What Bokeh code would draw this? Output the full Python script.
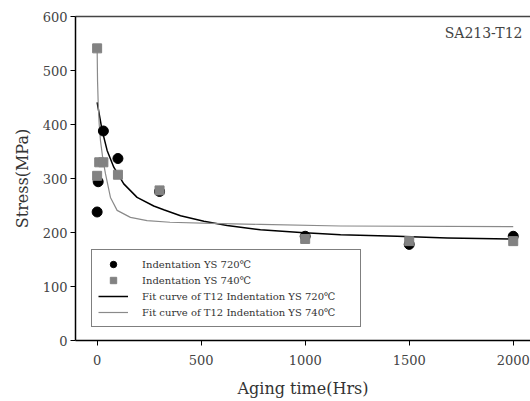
from bokeh.plotting import figure
from bokeh.models import Range1d, Legend, LegendItem, Label, LinearAxis, FixedTicker
from bokeh.embed import file_html
from bokeh.resources import INLINE

# Data
x_720 = [0, 5, 30, 100, 300, 1000, 1500, 2000]
y_720 = [238, 294, 388, 337, 276, 193, 178, 193]

x_740 = [0, 0, 10, 30, 100, 300, 1000, 1500, 2000]
y_740 = [541, 305, 330, 330, 307, 278, 188, 184, 184]

fit_x_720 = [0, 24, 48, 80, 128, 192, 272, 320, 401, 513, 625, 785, 977, 1170, 1442, 1683, 2000]
fit_y_720 = [441, 389, 352, 321, 290, 265, 249, 242, 231, 221, 213, 205, 200, 196, 193, 190, 188]

fit_x_740 = [0, 2, 5, 10, 16, 28, 40, 64, 96, 160, 240, 350, 545, 785, 1170, 2000]
fit_y_740 = [541, 480, 441, 400, 370, 335, 309, 265, 241, 228, 222, 219, 217, 215, 212, 211]

y_ticks = [0, 100, 200, 300, 400, 500, 600]
x_ticks = [0, 500, 1000, 1500, 2000]

FONT = "DejaVu Serif"

p = figure(width=530, height=401, output_backend="svg", toolbar_location=None,
           x_range=Range1d(-104, 2083), y_range=Range1d(0, 600),
           min_border_left=75, min_border_right=0, min_border_top=16, min_border_bottom=61)
p.outline_line_color = None
p.grid.grid_line_color = None
p.background_fill_color = "white"

# fit lines
l1 = p.line(fit_x_720, fit_y_720, line_color="black", line_width=1.5, line_join="round")
l2 = p.line(fit_x_740, fit_y_740, line_color="#8a8a8a", line_width=1.2, line_join="round")
# points
s1 = p.scatter(x_720, y_720, marker="circle", size=10, fill_color="black", line_color="black")
s2 = p.scatter(x_740, y_740, marker="square", size=9, fill_color="#828282", line_color="#828282")

legend = Legend(items=[
    LegendItem(label="Indentation YS 720\u2103", renderers=[s1]),
    LegendItem(label="Indentation YS 740\u2103", renderers=[s2]),
    LegendItem(label="Fit curve of T12 Indentation YS 720\u2103", renderers=[l1]),
    LegendItem(label="Fit curve of T12 Indentation YS 740\u2103", renderers=[l2]),
], location=(16, 13))
legend.label_text_font = FONT
legend.label_text_font_size = "10px"
legend.label_text_color = "#333333"
legend.glyph_width = 30
legend.glyph_height = 16
legend.label_height = 16
legend.label_standoff = 14
legend.spacing = 0
legend.padding = 6
legend.margin = 0
legend.border_line_color = "black"
legend.border_line_width = 1
legend.background_fill_alpha = 1
legend.label_width = 212
p.add_layout(legend, "center")

# axes
for ax in [p.xaxis[0], p.yaxis[0]]:
    ax.axis_line_color = "black"
    ax.axis_line_width = 1.5
    ax.major_tick_line_color = "black"
    ax.major_tick_line_width = 1
    ax.major_tick_in = 0
    ax.major_tick_out = 5
    ax.minor_tick_line_color = None
    ax.major_label_text_font = FONT
    ax.major_label_text_font_size = "13px"
    ax.major_label_text_color = "#444444"
    ax.axis_label_text_font = FONT
    ax.axis_label_text_font_size = "16px"
    ax.axis_label_text_font_style = "normal"
    ax.axis_label_text_color = "#333333"

p.xaxis[0].ticker = FixedTicker(ticks=x_ticks)
p.yaxis[0].ticker = FixedTicker(ticks=y_ticks)
p.xaxis[0].axis_label = "Aging time(Hrs)"
p.yaxis[0].axis_label = "Stress(MPa)"
p.xaxis[0].major_label_standoff = 9
p.xaxis[0].axis_label_standoff = 11
p.yaxis[0].major_label_standoff = 3
p.yaxis[0].axis_label_standoff = 8

top = LinearAxis(ticker=FixedTicker(ticks=[]), axis_line_color="#444444", axis_line_width=1.5,
                 major_tick_line_color=None, minor_tick_line_color=None,
                 major_label_text_font_size="0px")
p.add_layout(top, "above")

# screen units here are relative to the plot frame (left 75, bottom 340)
p.add_layout(Label(x=447, y=308, x_units="screen", y_units="screen",
                   text="SA213-T12", text_font=FONT, text_font_size="14px",
                   text_color="#444444", text_align="right", text_baseline="middle"))

open("out.html", "w").write(file_html(p, INLINE))
